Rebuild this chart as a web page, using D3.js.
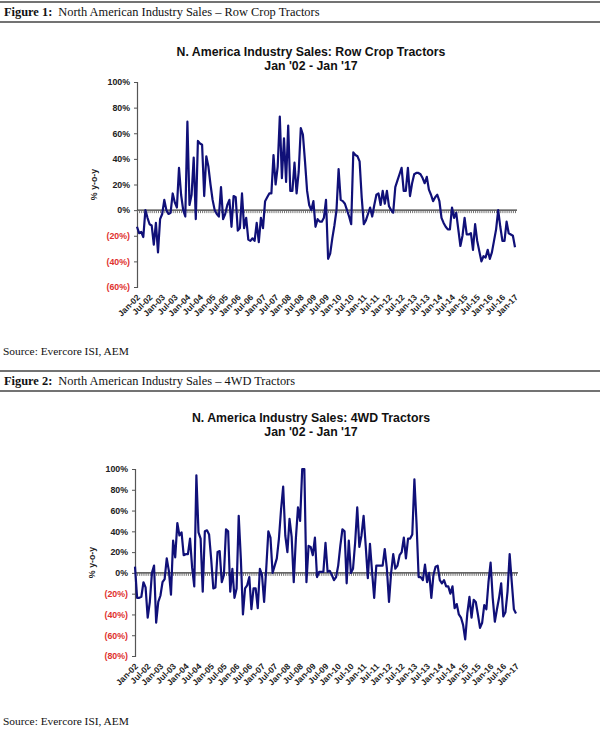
<!DOCTYPE html>
<html><head><meta charset="utf-8">
<script src="https://cdn.jsdelivr.net/npm/d3@7"></script>
<style>body{margin:0;background:#fff} svg{display:block}</style>
</head><body><svg id="c" width="600" height="733"></svg>
<script>
const tickLabels = ["Jan-02","Jul-02","Jan-03","Jul-03","Jan-04","Jul-04","Jan-05","Jul-05","Jan-06","Jul-06","Jan-07","Jul-07","Jan-08","Jul-08","Jan-09","Jul-09","Jan-10","Jul-10","Jan-11","Jul-11","Jan-12","Jul-12","Jan-13","Jul-13","Jan-14","Jul-14","Jan-15","Jul-15","Jan-16","Jul-16","Jan-17"];

const rowCrop = [
-13,-18,-17,-21,0,-6,-11,-12,-27,-10,-33,-7,-3,8,0,-3,-2,13,6,2,
33,12,0,-5,69,4,12,41,-7,54,52,51,11,42,34,20,8,0,-3,-5,
18,-7,-3,4,8,-13,11,10,-16,-14,13,-14,-6,-23,-24,-22,-24,-10,-25,-6,
-14,7,10,13,13,43,20,34,73,25,56,22,66,15,15,37,13,30,64,59,
38,15,4,0,7,-13,-7,-9,-9,-6,8,-38,-34,-22,-12,0,32,8,7,5,
0,-5,-11,45,43,42,38,10,-11,-8,-3,2,-5,4,12,13,4,15,5,15,
3,0,-2,18,23,28,33,15,15,33,11,21,28,29,29,28,25,21,26,16,
12,7,10,12,7,-6,-10,-13,-15,-15,2,-6,-2,-15,-28,-20,-6,-19,-19,-18,
-31,-11,-24,-32,-40,-36,-37,-31,-38,-33,-24,-15,0,-13,-24,-24,-9,-18,-19,-20,
-29];

const fourWD = [
6,-24,-24,-23,-9,-14,-43,-28,0,7,-48,-28,-22,-9,-6,14,2,-21,31,15,
48,36,39,17,18,18,33,5,-13,94,39,33,-18,40,41,37,13,-15,-14,20,
21,-9,-2,42,40,-18,4,-24,-15,55,14,-40,-15,-12,-4,-35,-15,-15,-34,4,
-2,-28,4,40,34,0,7,14,33,61,83,36,20,52,35,-9,33,63,50,100,
100,-9,26,25,17,34,-4,1,1,1,29,1,2,-2,-7,-4,7,26,42,40,
-10,31,0,4,29,63,25,36,55,26,-5,28,1,-24,7,7,7,7,23,4,
-28,0,18,4,7,17,20,34,14,33,33,37,90,48,-4,-4,-7,8,-9,0,
-24,-2,6,7,-7,-10,-7,-13,-13,-20,-13,-34,-30,-40,-43,-50,-64,-39,-23,-43,
-26,-28,-40,-53,-48,-31,-35,-9,10,-24,-47,-35,-24,-10,-42,-38,-18,18,-9,-35,
-39];

const ticks1 = [100,80,60,40,20,0,-20,-40,-60];
const ticks2 = [100,80,60,40,20,0,-20,-40,-60,-80];

const svg = d3.select("#c");
const serif = "'Liberation Serif','Times New Roman',serif";
const sans = "'Liberation Sans',Arial,sans-serif";

function header(yTop, yBot, num, text){
  svg.append("line").attr("x1",0).attr("x2",600).attr("y1",yTop).attr("y2",yTop).attr("stroke","#444").attr("stroke-width",1.4);
  svg.append("line").attr("x1",0).attr("x2",600).attr("y1",yBot).attr("y2",yBot).attr("stroke","#444").attr("stroke-width",1.4);
  const t = svg.append("text").attr("x",4).attr("y",yTop+14).attr("font-family",serif).attr("font-size",12.4).attr("fill","#111");
  t.append("tspan").attr("font-weight","bold").text("Figure "+num+":");
  t.append("tspan").attr("dx",6).text(text);
}

function chart(o){
  const x = d3.scaleLinear().domain([0,180]).range([o.x0,o.x1]);
  const y = d3.scaleLinear().domain([o.ymin,o.ymax]).range([o.yb,o.yt]);
  const g = svg.append("g");
  g.append("text").attr("x",o.cx).attr("y",o.ty).attr("text-anchor","middle").attr("font-family",sans).attr("font-weight","bold").attr("font-size",12.3).attr("fill","#111").text(o.title);
  g.append("text").attr("x",o.cx).attr("y",o.ty+14).attr("text-anchor","middle").attr("font-family",sans).attr("font-weight","bold").attr("font-size",12.3).attr("fill","#111").text("Jan '02 - Jan '17");

  // y axis
  const ya = g.append("g").attr("transform",`translate(${o.x0},0)`)
    .call(d3.axisLeft(y).tickValues(o.ticks).tickSize(3).tickPadding(4).tickFormat(d=> d<0?`(${-d}%)`:`${d}%`));
  ya.select(".domain").attr("stroke","#555").attr("stroke-width",1.2);
  ya.selectAll(".tick line").attr("stroke","#555");
  ya.selectAll("text").attr("font-family",sans).attr("font-weight","bold").attr("font-size",8.8)
    .attr("fill",d=> d<0?"#e0322e":"#222");
  g.append("text").attr("transform",`translate(${o.x0-40},${(o.yt+o.yb)/2}) rotate(-90)`).attr("text-anchor","middle")
    .attr("font-family",sans).attr("font-weight","bold").attr("font-size",8.8).attr("fill","#222").text("% y-o-y");

  // zero line with monthly ticks
  const za = g.append("g").attr("transform",`translate(0,${y(0)})`)
    .call(d3.axisBottom(x).tickValues(d3.range(0,181)).tickSize(3).tickSizeOuter(0).tickFormat(""));
  za.select(".domain").attr("stroke","#333").attr("stroke-width",1.3);
  za.selectAll(".tick line").attr("stroke","#666").attr("stroke-width",0.9);
  za.select(".domain").attr("d",`M${o.x0},0H${o.x1+2}`);

  // x labels
  const xa = g.append("g").attr("transform",`translate(0,${o.yb+5})`)
    .call(d3.axisBottom(x).tickValues(d3.range(0,181,6)).tickSize(0).tickFormat((d,i)=>tickLabels[i]));
  xa.select(".domain").remove();
  xa.selectAll("text").attr("font-family",sans).attr("font-weight","bold").attr("font-size",8.5).attr("fill","#222")
    .attr("text-anchor","end").attr("dy",0).attr("y",0)
    .attr("transform","translate(3,6) rotate(-45)");

  // data line
  g.append("path").datum(o.data).attr("fill","none").attr("stroke","#101078").attr("stroke-width",2.2)
    .attr("stroke-linejoin","round")
    .attr("d",d3.line().x((d,i)=>x(i)).y(d=>y(d)));

  svg.append("text").attr("x",3).attr("y",o.src).attr("font-family",serif).attr("font-size",11.4).attr("fill","#111").text("Source: Evercore ISI, AEM");
}

header(2,22,1,"North American Industry Sales \u2013 Row Crop Tractors");
chart({title:"N. America Industry Sales: Row Crop Tractors", cx:311, ty:56, x0:137, x1:515, yt:82, yb:287, ymin:-60, ymax:100, ticks:ticks1, data:rowCrop, src:355});
header(371,391,2,"North American Industry Sales \u2013 4WD Tractors");
chart({title:"N. America Industry Sales: 4WD Tractors", cx:311, ty:422, x0:135, x1:516, yt:469, yb:656, ymin:-80, ymax:100, ticks:ticks2, data:fourWD, src:725});
</script></body></html>
